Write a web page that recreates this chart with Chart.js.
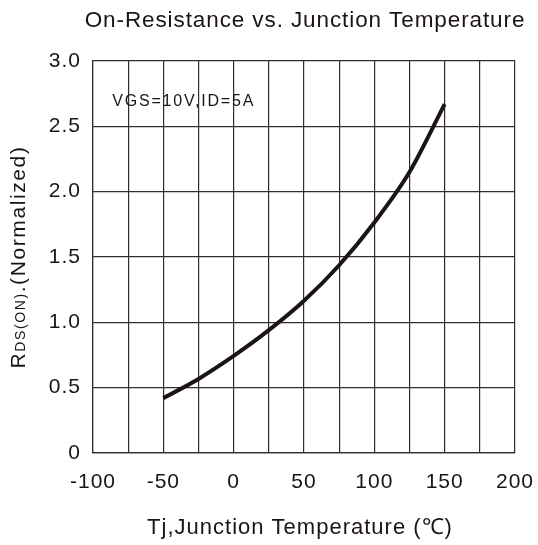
<!DOCTYPE html>
<html>
<head>
<meta charset="utf-8">
<script src="https://cdn.jsdelivr.net/npm/chart.js@4"></script>
<style>
  body { margin: 0; background: #fff; }
  #wrap { width: 538px; height: 545px; }
</style>
</head>
<body>
<div id="wrap"><canvas id="rds-canvas"></canvas></div>
<script>
// values
const temps = [-50, -25, 0, 25, 50, 75, 100, 125, 150];
const rdsOn = [0.42, 0.567, 0.743, 0.94, 1.165, 1.437, 1.764, 2.15, 2.67];
const x_ticks = [-100, -50, 0, 50, 100, 150, 200];
const y_ticks = [0, 0.5, 1.0, 1.5, 2.0, 2.5, 3.0];

const chart_title = 'On-Resistance vs. Junction Temperature';
const x_title = 'Tj,Junction Temperature (\u2103)';
const cond_text = 'VGS=10V,ID=5A';

const ink = '#1c1414';
const grid_col = '#342c2c';
const font_family = '"Liberation Sans", Arial, sans-serif';

const textPlugin = {
    id: 'texts',
    beforeDraw(chart) {
        chart.ctx.letterSpacing = '1px';
    },
    afterDraw(chart) {
        const ctx = chart.ctx;
        const area = chart.chartArea;
        const xs = chart.scales.x;
        const ys = chart.scales.y;
        ctx.save();
        ctx.fillStyle = ink;

        // title
        ctx.letterSpacing = '0.9px';
        ctx.font = '22.5px ' + font_family;
        ctx.textAlign = 'center';
        ctx.textBaseline = 'middle';
        ctx.fillText(chart_title, (area.left + area.right) / 2 + 1, 21);

        // x axis title
        ctx.letterSpacing = '1px';
        ctx.font = '22px ' + font_family;
        ctx.fillText(x_title, (area.left + area.right) / 2 - 4, 528);

        // test condition
        ctx.letterSpacing = '1.8px';
        ctx.font = '16px ' + font_family;
        ctx.textAlign = 'left';
        ctx.fillText(cond_text, xs.getPixelForValue(-86.3), ys.getPixelForValue(2.69));

        // y axis title with subscript
        const parts = [
            ['R', '21px'],
            ['DS(ON)', '14px'],
            ['.(Normalized)', '21px']
        ];
        ctx.letterSpacing = '1.6px';
        let total = 0;
        parts.forEach(p => {
            ctx.font = p[1] + ' ' + font_family;
            total += ctx.measureText(p[0]).width;
        });
        ctx.translate(24.5, (area.top + area.bottom) / 2);
        ctx.rotate(-Math.PI / 2);
        ctx.textBaseline = 'alphabetic';
        let pos = -total / 2;
        parts.forEach(p => {
            ctx.font = p[1] + ' ' + font_family;
            ctx.fillText(p[0], pos, 0);
            pos += ctx.measureText(p[0]).width;
        });
        ctx.restore();
    }
};

const rds_config = {
    type: 'line',
    data: {
        datasets: [
            {
                data: temps.map((t, i) => ({x: t, y: rdsOn[i]})),
                borderColor: ink,
                borderWidth: 4,
                pointRadius: 0,
                cubicInterpolationMode: 'monotone',
                fill: false,
            }
        ]
    },
    options: {
        responsive: true,
        maintainAspectRatio: false,
        animation: false,
        layout: {
            padding: {top: 61, right: 23, left: 0, bottom: 0}
        },
        plugins: {
            legend: {display: false},
            title: {display: false},
            tooltip: {enabled: false},
        },
        scales: {
            x: {
                type: 'linear',
                min: -100,
                max: 200,
                afterFit: s => {
                    s.height = 92;
                    s.paddingLeft = 0;
                    s.paddingRight = 0;
                },
                afterBuildTicks: s => {
                    const t = [];
                    for (let v = -100; v <= 200; v += 25) t.push({value: v});
                    s.ticks = t;
                },
                grid: {color: grid_col, lineWidth: 1.2, drawTicks: false},
                border: {color: grid_col, width: 1.2},
                ticks: {
                    padding: 17,
                    color: ink,
                    font: {family: font_family, size: 21},
                    maxRotation: 0,
                    autoSkip: false,
                    callback: v => x_ticks.includes(v) ? String(v) : ''
                }
            },
            y: {
                min: 0,
                max: 3,
                afterFit: s => {
                    s.width = 93;
                    s.paddingTop = 0;
                    s.paddingBottom = 0;
                },
                afterBuildTicks: s => {
                    s.ticks = y_ticks.map(v => ({value: v}));
                },
                grid: {color: grid_col, lineWidth: 1.2, drawTicks: false},
                border: {color: grid_col, width: 1.2},
                ticks: {
                    padding: 12,
                    color: ink,
                    font: {family: font_family, size: 21},
                    callback: v => v === 0 ? '0' : v.toFixed(1)
                }
            }
        }
    },
    plugins: [textPlugin]
};

const rds_ctx = document.getElementById('rds-canvas');
new Chart(rds_ctx, rds_config);
</script>
</body>
</html>
